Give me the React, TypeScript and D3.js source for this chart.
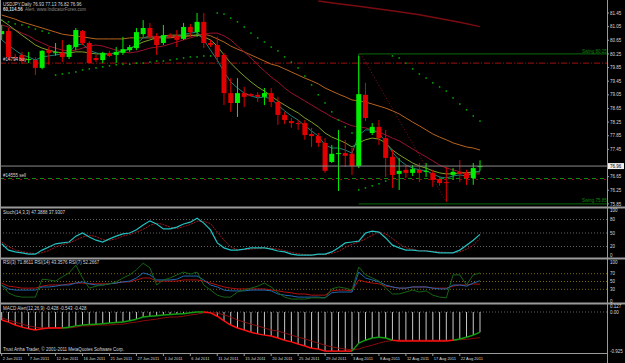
import React from 'react';
import * as d3 from 'd3';

const W = 625;
const H = 363;

// ---- price candles (USDJPY Daily) ----
const openP = [80.83,80.92,80.16,80.22,80.07,80.07,79.84,80.36,80.28,80.28,80.16,80.45,80.92,80.57,80.13,80.07,80.28,80.22,80.28,80.36,80.42,80.83,81.01,80.78,80.57,80.80,80.78,80.69,81.04,80.89,81.19,80.57,80.51,80.22,79.10,78.81,79.10,79.07,79.05,78.99,79.10,78.84,78.46,78.28,78.22,78.22,77.90,77.84,77.64,77.08,77.32,77.34,77.32,76.96,79.05,77.93,78.11,77.78,77.23,76.73,76.85,76.76,76.85,76.79,76.76,76.58,76.49,76.70,76.79,76.76,76.61,76.93];
const highP = [81.10,81.01,80.25,80.31,80.31,80.16,80.36,80.45,80.57,80.66,80.54,81.01,80.95,80.62,80.22,80.31,80.33,80.45,80.75,80.51,81.01,81.24,81.16,80.86,81.10,80.86,80.95,81.16,81.13,81.45,81.45,80.66,80.75,80.28,79.54,79.54,79.28,79.10,79.13,79.25,79.25,78.99,78.55,78.37,78.31,78.31,78.08,77.93,77.78,77.58,78.02,77.73,77.49,80.19,79.40,78.22,78.31,78.02,77.43,77.20,77.00,76.99,77.05,77.05,76.85,76.67,76.93,76.90,77.14,76.85,77.05,77.13];
const lowP = [80.66,80.07,80.04,79.95,79.98,79.63,79.80,79.93,80.20,80.01,80.10,80.36,80.51,79.98,80.01,79.98,80.16,79.98,80.22,80.31,80.36,80.75,80.72,80.22,80.51,80.72,80.45,80.66,80.75,80.75,80.42,80.45,80.01,78.75,78.55,78.40,78.69,79.00,78.84,78.75,78.69,78.17,78.19,78.08,78.02,77.73,77.52,77.52,76.76,77.05,76.23,76.93,76.70,76.90,78.28,77.87,77.58,76.64,76.32,76.26,76.61,76.67,76.49,76.64,76.35,76.38,75.91,76.55,76.49,76.41,76.41,76.82];
const closeP = [80.92,80.16,80.13,80.04,80.10,79.84,80.34,80.28,80.30,80.16,80.51,80.95,80.57,79.98,80.07,80.28,80.19,80.31,80.39,80.45,80.89,81.01,80.75,80.51,80.80,80.75,80.66,81.04,80.89,81.19,80.57,80.51,80.16,79.10,78.81,79.10,78.99,79.02,78.99,79.10,78.84,78.46,78.31,78.22,78.19,77.87,77.84,77.64,76.82,77.32,77.34,77.26,76.96,79.07,78.37,78.11,77.78,77.20,76.70,76.82,76.76,76.87,76.76,76.82,76.55,76.46,76.46,76.79,76.73,76.61,76.90,76.96];

// ---- moving averages ----
const maTeal = [80.66,80.51,80.36,80.22,80.16,80.07,80.16,80.19,80.22,80.25,80.31,80.51,80.54,80.36,80.28,80.25,80.25,80.28,80.34,80.39,80.54,80.72,80.78,80.72,80.75,80.78,80.75,80.83,80.86,80.89,80.66,80.36,80.07,79.72,79.43,79.25,79.10,79.02,78.96,78.99,78.93,78.75,78.58,78.43,78.31,78.14,77.99,77.84,77.58,77.49,77.49,77.43,77.34,77.87,78.02,78.02,77.93,77.67,77.37,77.14,76.99,76.90,76.85,76.82,76.73,76.64,76.61,76.67,76.70,76.67,76.76,76.82];
const maOlive = [81.24,81.10,80.95,80.80,80.66,80.51,80.42,80.36,80.31,80.28,80.28,80.31,80.31,80.28,80.25,80.25,80.25,80.28,80.34,80.39,80.51,80.60,80.66,80.72,80.78,80.80,80.80,80.80,80.80,80.80,80.75,80.66,80.48,80.22,79.98,79.78,79.60,79.43,79.28,79.16,79.02,78.87,78.75,78.63,78.52,78.37,78.25,78.11,77.93,77.81,77.73,77.64,77.52,77.64,77.73,77.78,77.75,77.64,77.43,77.29,77.17,77.05,76.96,76.90,76.82,76.76,76.73,76.73,76.76,76.76,76.79,76.79];
const maCrimson = [81.10,81.04,80.95,80.86,80.78,80.66,80.57,80.48,80.42,80.36,80.34,80.36,80.42,80.48,80.51,80.48,80.42,80.36,80.31,80.28,80.31,80.36,80.42,80.45,80.48,80.54,80.60,80.66,80.72,80.78,80.83,80.86,80.86,80.78,80.66,80.48,80.31,80.13,79.93,79.75,79.57,79.43,79.25,79.10,78.99,78.87,78.75,78.63,78.52,78.40,78.31,78.22,78.14,78.11,78.08,78.02,77.96,77.87,77.78,77.70,77.58,77.46,77.34,77.23,77.11,76.99,76.90,76.85,76.79,76.73,76.73,76.73];
const maOrange = [81.39,81.33,81.27,81.19,81.13,81.07,81.01,80.95,80.89,80.83,80.80,80.78,80.75,80.72,80.69,80.69,80.69,80.69,80.69,80.72,80.72,80.72,80.72,80.72,80.72,80.72,80.75,80.75,80.78,80.80,80.83,80.78,80.69,80.60,80.48,80.39,80.31,80.22,80.13,80.04,79.95,79.90,79.81,79.72,79.63,79.54,79.46,79.37,79.25,79.16,79.07,78.99,78.90,78.87,78.84,78.78,78.72,78.66,78.58,78.49,78.37,78.25,78.14,78.02,77.90,77.81,77.73,77.64,77.58,77.52,77.49,77.43];
const maLongBars = [47,50,53,56,59,62,65,68,71];
const maLong = [81.80,81.72,81.65,81.57,81.49,81.40,81.29,81.18,81.05];
const sar = [81.24,81.19,81.13,81.10,81.04,80.98,80.92,80.86,79.63,79.66,79.69,79.72,79.78,79.81,79.84,79.87,79.90,79.93,79.95,79.95,79.98,79.98,80.01,80.04,80.04,80.07,80.10,80.13,80.16,80.16,80.19,80.19,81.45,81.42,81.30,81.19,81.04,80.86,80.72,80.60,80.45,80.34,80.16,80.01,79.84,79.60,79.34,79.05,78.81,78.55,78.31,78.11,77.93,76.26,76.32,76.38,76.44,76.52,80.19,80.13,79.98,79.81,79.66,79.54,79.40,79.28,79.16,78.96,78.78,78.61,78.43,78.28];

// ---- stochastic ----
const stochK = [26,12,8,6,3,3,12,19,26,28,30,43,50,41,34,30,37,43,48,50,57,68,77,70,59,59,63,70,74,83,72,57,28,17,12,12,14,17,17,17,14,10,8,3,1,1,1,3,3,8,17,28,30,32,50,54,52,39,23,17,12,12,10,10,8,6,6,6,12,23,34,47];
const stochD = [30,20,12,9,6,4,6,11,19,24,28,34,41,45,42,35,34,37,43,47,52,58,67,72,69,63,60,64,69,76,76,71,52,34,19,13,13,14,16,17,16,14,11,7,4,2,1,2,2,5,9,18,25,30,37,45,52,48,38,26,17,14,11,11,9,8,7,6,8,14,23,38];

// ---- RSI ----
const rsi3 = [41,21,13,10,10,10,56,54,51,62,72,92,59,33,38,41,44,49,59,67,80,97,85,41,54,59,67,74,69,74,41,28,15,10,10,23,28,33,38,46,36,21,10,5,5,5,8,8,8,31,36,33,28,87,67,59,51,33,18,18,23,28,23,26,15,10,8,67,67,41,67,72];
const rsi7 = [41,31,28,28,28,28,36,36,38,41,41,46,49,44,41,41,44,46,49,51,59,72,67,54,54,54,56,64,64,64,54,41,36,28,26,26,26,28,28,28,26,18,15,13,10,10,10,10,8,21,23,23,23,74,59,54,49,41,36,33,33,36,36,36,33,31,31,41,41,38,46,52];
const rsi14 = [46,38,36,33,33,33,38,41,41,41,44,46,46,44,44,44,44,46,49,49,54,59,59,51,51,51,51,54,54,54,51,46,41,36,33,31,31,31,31,31,28,26,23,21,18,18,15,15,15,26,28,28,26,54,49,46,44,38,36,33,33,36,36,36,33,33,33,38,41,41,44,43];

// ---- MACD ----
const macdMain = [-0.19,-0.24,-0.31,-0.36,-0.40,-0.43,-0.40,-0.38,-0.38,-0.38,-0.36,-0.33,-0.31,-0.30,-0.29,-0.28,-0.26,-0.25,-0.24,-0.21,-0.17,-0.12,-0.10,-0.09,-0.07,-0.06,-0.05,-0.04,-0.02,0.00,0.00,-0.02,-0.10,-0.21,-0.31,-0.38,-0.43,-0.48,-0.52,-0.55,-0.57,-0.62,-0.67,-0.71,-0.76,-0.81,-0.86,-0.88,-0.93,-0.93,-0.93,-0.93,-0.93,-0.74,-0.67,-0.62,-0.60,-0.62,-0.67,-0.69,-0.69,-0.69,-0.69,-0.69,-0.69,-0.69,-0.69,-0.67,-0.64,-0.60,-0.55,-0.48];
const macdSignal = [-0.14,-0.19,-0.24,-0.29,-0.33,-0.36,-0.38,-0.38,-0.38,-0.38,-0.38,-0.36,-0.33,-0.33,-0.31,-0.31,-0.31,-0.29,-0.29,-0.26,-0.24,-0.21,-0.19,-0.17,-0.14,-0.12,-0.12,-0.10,-0.07,-0.05,-0.02,-0.02,-0.02,-0.07,-0.12,-0.19,-0.24,-0.29,-0.33,-0.38,-0.43,-0.45,-0.50,-0.55,-0.60,-0.64,-0.69,-0.74,-0.79,-0.83,-0.86,-0.88,-0.90,-0.88,-0.83,-0.79,-0.74,-0.70,-0.68,-0.67,-0.67,-0.67,-0.67,-0.67,-0.67,-0.67,-0.67,-0.67,-0.66,-0.65,-0.63,-0.61];

// ---- axis labels ----
const dateLabels = ['2 Jun 2011','7 Jun 2011','12 Jun 2011','16 Jun 2011','21 Jun 2011','27 Jun 2011','1 Jul 2011','6 Jul 2011','11 Jul 2011','15 Jul 2011','20 Jul 2011','25 Jul 2011','29 Jul 2011','3 Aug 2011','8 Aug 2011','12 Aug 2011','17 Aug 2011','22 Aug 2011'];
const dateLabelBars = [0,4,8,12,16,20,24,28,32,36,40,44,48,52,56,60,64,68];
const priceTicks = [81.45,81.05,80.65,80.25,79.85,79.45,79.05,78.65,78.25,77.85,77.45,76.65,76.25,75.85];
const stochTicks = [100,80,50,20,0];
const stochLevels = [80,50,20];
const rsiTicks = [100,70,50,30,0];
const rsiLevels = [70,50,30];
const lastPrice = 76.96;
const swingHigh = 80.25;
const swingLow = 75.85;
const swingBar = 53;
const swingLowBar = 66;
const buyLevel = 79.98;
const sellLevel = 76.58;

const FONT = 'Liberation Sans, Arial, sans-serif';
const TXT = '#d8d8d8';
const AXIS = '#9a9a9a';

export default function App() {
  const n = closeP.length;
  const idx = d3.range(n);
  const x = d3.scaleLinear().domain([0, n - 1]).range([1.7, 480]);
  const yP = d3.scaleLinear().domain([75.85, 81.45]).range([203.9, 13]);
  const yS = d3.scaleLinear().domain([0, 100]).range([255.5, 210.5]);
  const yR = d3.scaleLinear().domain([0, 100]).range([301, 262]);
  const yM = d3.scaleLinear().domain([-0.925, 0]).range([350.9, 312]);
  const axisX = 607;

  const pl = (arr: number[], ys: d3.ScaleLinear<number, number>) =>
    d3.line<number>().x((_, i) => x(i)).y((d) => ys(d))(arr) || '';

  const candleW = 5;

  return (
    <svg width={W} height={H} style={{ position: 'fixed', left: 0, top: 0, background: '#000' }}
      fontFamily={FONT}>
      <rect x={0} y={0} width={W} height={H} fill="#000" />
      <defs>
        <clipPath id="mainClip"><rect x={1} y={0} width={axisX - 1} height={206} /></clipPath>
      </defs>

      {/* ---------- MAIN PANEL ---------- */}
      <g clipPath="url(#mainClip)">
        <path d={d3.line<number>().x((_, k) => x(maLongBars[k])).y((d) => yP(d))(maLong) || ''}
          fill="none" stroke="#7a0c10" strokeWidth={1.5} />
        <line x1={0} x2={axisX} y1={yP(buyLevel)} y2={yP(buyLevel)} stroke="#a01010" strokeWidth={1} strokeDasharray="6,2,1,2" />
        <line x1={0} x2={axisX} y1={yP(sellLevel) - 0.5} y2={yP(sellLevel) - 0.5} stroke="#108a10" strokeWidth={1} strokeDasharray="4,4" />
        <line x1={4} x2={axisX} y1={yP(sellLevel) + 0.5} y2={yP(sellLevel) + 0.5} stroke="#8a1010" strokeWidth={1} strokeDasharray="2,6" />
        <line x1={x(swingBar)} x2={axisX} y1={yP(swingHigh)} y2={yP(swingHigh)} stroke="#0c6a0c" strokeWidth={1} />
        <line x1={x(swingBar)} x2={axisX} y1={yP(swingLow)} y2={yP(swingLow)} stroke="#0c6a0c" strokeWidth={1} />
        <line x1={x(swingBar)} x2={x(swingBar)} y1={yP(swingHigh)} y2={yP(closeP[swingBar])} stroke="#0c7a0c" strokeWidth={1} />
        <line x1={x(swingBar) + 2} x2={x(swingLowBar)} y1={yP(swingHigh)} y2={yP(lowP[swingLowBar])} stroke="#8a1020" strokeWidth={1} strokeDasharray="1,2" />
        <path d={pl(maOrange, yP)} fill="none" stroke="#b8641e" strokeWidth={1} />
        <path d={pl(maCrimson, yP)} fill="none" stroke="#9a1030" strokeWidth={1} />
        <path d={pl(maOlive, yP)} fill="none" stroke="#7f9f28" strokeWidth={1} />
        <path d={pl(maTeal, yP)} fill="none" stroke="#1f7f78" strokeWidth={1} />
        {idx.map((i) => {
          const up = closeP[i] >= openP[i];
          const c = up ? '#00ee00' : '#e00000';
          const top = yP(Math.max(openP[i], closeP[i]));
          const bot = yP(Math.min(openP[i], closeP[i]));
          return (
            <g key={'c' + i}>
              <line x1={x(i)} x2={x(i)} y1={yP(highP[i])} y2={yP(lowP[i])} stroke={c} strokeWidth={1} />
              <rect x={x(i) - candleW / 2} y={top} width={candleW} height={Math.max(1, bot - top)} fill={c} />
            </g>
          );
        })}
        {idx.map((i) => (
          <rect key={'s' + i} x={x(i) - 0.75} y={yP(sar[i]) - 0.75} width={1.5} height={1.5} fill="#00b400" />
        ))}
        <line x1={0} x2={axisX} y1={yP(lastPrice)} y2={yP(lastPrice)} stroke="#8a8a8a" strokeWidth={1} />
      </g>
      {/* main texts */}
      <text x={3} y={5.5} fontSize={4.5} fill={TXT}>USDJPY,Daily  76.93 77.13 76.82 76.96</text>
      <text x={3} y={11} fontSize={4.5} fill={TXT} fontWeight="bold">60,114.56</text>
      <text x={25} y={11} fontSize={4.5} fill="#8a8a8a">Alert. www.IndicatorForex.com</text>
      <text x={3} y={yP(buyLevel) - 2} fontSize={4.5} fill={TXT}>#14794 buy</text>
      <text x={3} y={yP(sellLevel) - 2.5} fontSize={4.5} fill={TXT}>#14555 sell</text>
      <text x={582} y={yP(swingHigh) - 1} fontSize={4.5} fill="#0c8a0c">Swing   80.25</text>
      <text x={582} y={yP(swingLow) - 1.5} fontSize={4.5} fill="#0c8a0c">Swing   75.85</text>

      {/* ---------- STOCH ---------- */}
      {stochLevels.map((l) => (
        <line key={'sl' + l} x1={0} x2={axisX} y1={yS(l)} y2={yS(l)} stroke="#7a7a7a" strokeDasharray="1,2" strokeWidth={0.8} />
      ))}
      <path d={pl(stochD, yS)} fill="none" stroke="#a01820" strokeWidth={1} strokeDasharray="2,1" />
      <path d={pl(stochK, yS)} fill="none" stroke="#22c0c0" strokeWidth={1.2} />
      <text x={3} y={214} fontSize={4.5} fill={TXT}>Stoch(14,3,3) 47.3888 37.9307</text>

      {/* ---------- RSI ---------- */}
      {rsiLevels.map((l) => (
        <line key={'rl' + l} x1={0} x2={axisX} y1={yR(l)} y2={yR(l)} stroke="#a07d10" strokeDasharray="1,2" strokeWidth={0.8} />
      ))}
      <path d={pl(rsi14, yR)} fill="none" stroke="#b01010" strokeWidth={1} />
      <path d={pl(rsi7, yR)} fill="none" stroke="#1f68b0" strokeWidth={1} />
      <path d={pl(rsi3, yR)} fill="none" stroke="#176417" strokeWidth={1} />
      <text x={3} y={264} fontSize={4.5} fill={TXT}>RSI(3) 71.8611  RSI(14) 43.3576  RSI(7) 52.2667</text>

      {/* ---------- MACD ---------- */}
      <line x1={0} x2={axisX} y1={yM(0)} y2={yM(0)} stroke="#7a7a7a" strokeDasharray="1,2" strokeWidth={0.8} />
      {idx.map((i) => (
        <line key={'h' + i} x1={x(i)} x2={x(i)} y1={yM(0)} y2={yM(macdMain[i])} stroke="#c8c8c8" strokeWidth={1} />
      ))}
      <path d={pl(macdSignal, yM)} fill="none" stroke="#8a0c0c" strokeWidth={1} />
      {idx.slice(1).map((i) => (
        <line key={'m' + i} x1={x(i - 1)} x2={x(i)} y1={yM(macdMain[i - 1])} y2={yM(macdMain[i])}
          stroke={macdMain[i] > macdSignal[i] ? '#12a012' : '#ff1010'} strokeWidth={1.5} />
      ))}
      <text x={3} y={310} fontSize={4.5} fill={TXT}>MACD Alert(12,26,9) -0.428 -0.543 -0.428</text>
      <text x={3} y={351} fontSize={4.5} fill={TXT}>Trust Artha Trader, © 2001-2011 MetaQuotes Software Corp.</text>

      {/* ---------- separators & frame ---------- */}
      <line x1={0} x2={W} y1={207.5} y2={207.5} stroke={AXIS} strokeWidth={2} />
      <line x1={0} x2={W} y1={258.5} y2={258.5} stroke={AXIS} strokeWidth={2} />
      <line x1={0} x2={W} y1={303.5} y2={303.5} stroke={AXIS} strokeWidth={2} />
      <line x1={0} x2={axisX} y1={353.5} y2={353.5} stroke={AXIS} strokeWidth={1} />
      <line x1={0.5} x2={0.5} y1={0} y2={353.5} stroke={AXIS} strokeWidth={1} />
      <line x1={axisX + 0.5} x2={axisX + 0.5} y1={0} y2={H} stroke={AXIS} strokeWidth={1} />

      {priceTicks.map((t) => (
        <g key={'pt' + t}>
          <line x1={axisX} x2={axisX + 2} y1={yP(t)} y2={yP(t)} stroke={AXIS} />
          <text x={axisX + 3} y={yP(t) + 1.6} fontSize={4.5} fill={TXT}>{t.toFixed(2)}</text>
        </g>
      ))}
      <rect x={axisX + 1} y={yP(lastPrice) - 3} width={16} height={6} fill="#f0f0f0" />
      <text x={axisX + 3} y={yP(lastPrice) + 1.6} fontSize={4.5} fill="#000">{lastPrice.toFixed(2)}</text>
      {stochTicks.map((t) => (
        <text key={'st' + t} x={axisX + 3} y={yS(t) + 1.6} fontSize={4.5} fill={TXT}>{t}</text>
      ))}
      {rsiTicks.map((t) => (
        <text key={'rt' + t} x={axisX + 3} y={yR(t) + 1.6} fontSize={4.5} fill={TXT}>{t}</text>
      ))}
      <text x={axisX + 3} y={308} fontSize={4.5} fill={TXT}>0.127</text>
      <text x={axisX + 3} y={313.6} fontSize={4.5} fill={TXT}>0.00</text>
      <text x={axisX + 3} y={352.5} fontSize={4.5} fill={TXT}>-0.925</text>

      {dateLabels.map((lab, k) => (
        <g key={'d' + k}>
          <line x1={x(dateLabelBars[k])} x2={x(dateLabelBars[k])} y1={353.5} y2={356} stroke={AXIS} />
          <text x={x(dateLabelBars[k]) + 1} y={359.5} fontSize={4} fill={TXT}>{lab}</text>
        </g>
      ))}
    </svg>
  );
}
